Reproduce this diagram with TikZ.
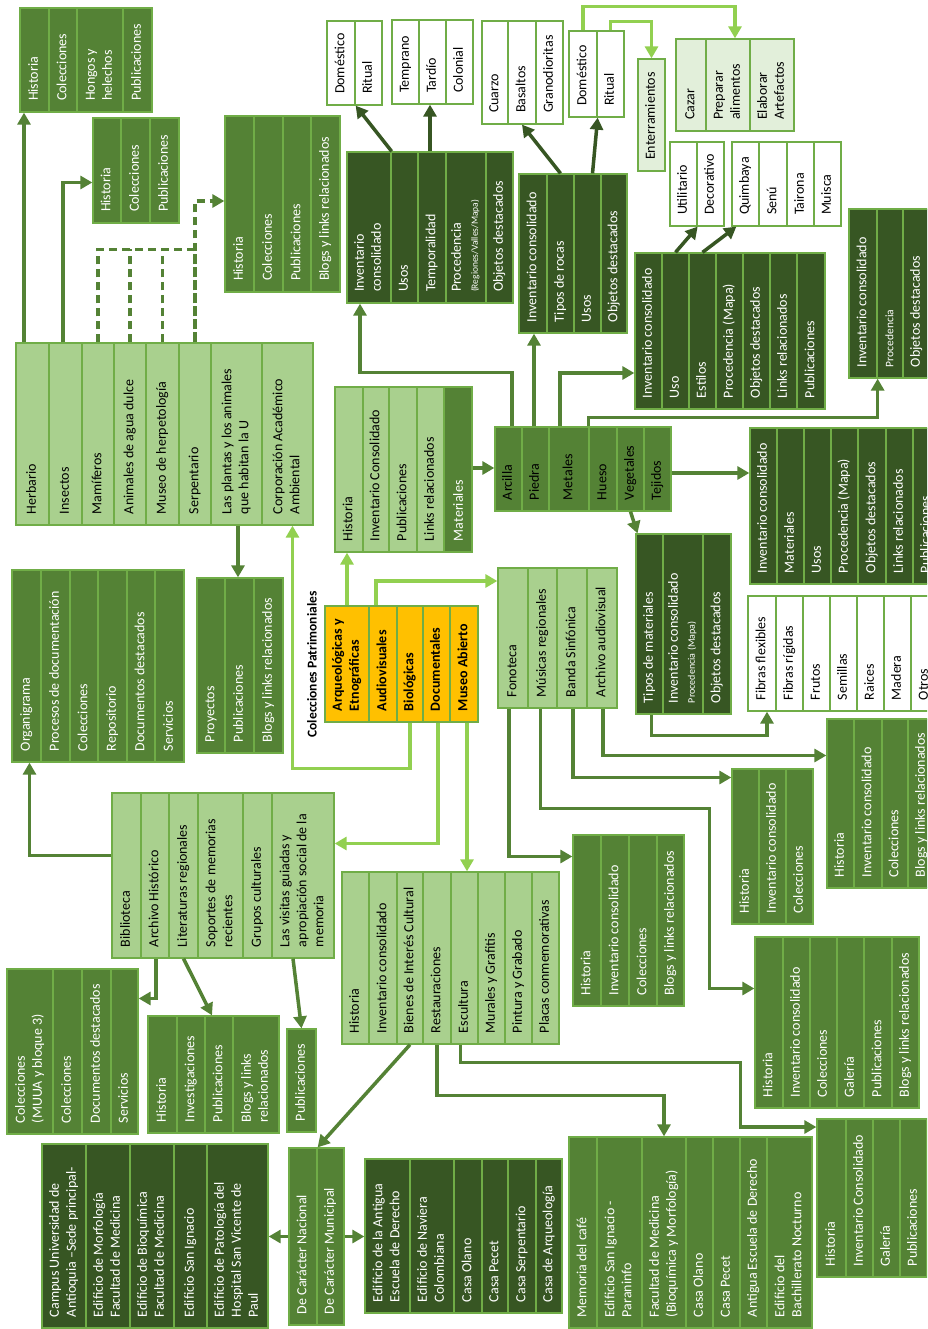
\documentclass[tikz,border=0pt]{standalone}
\usepackage{fontspec}
\setmainfont{Carlito}
\usepackage{graphicx}
\usetikzlibrary{arrows.meta}

\definecolor{midG}{HTML}{548235}
\definecolor{darkG}{HTML}{375623}
\definecolor{lightG}{HTML}{A9D08E}
\definecolor{paleG}{HTML}{E2EFDA}
\definecolor{edgeG}{HTML}{70AD47}
\definecolor{brightG}{HTML}{92D050}
\definecolor{gold}{HTML}{FFC000}

\tikzset{
  cellbox/.style={draw=edgeG, line width=1.3pt, inner sep=0pt, font=\fontsize{14}{17}\selectfont},
  midcell/.style={fill=midG, text=white},
  darkcell/.style={fill=darkG, text=white},
  greencell/.style={fill=midG, text=black},
  lightcell/.style={fill=lightG, text=black},
  whitecell/.style={fill=white, text=black},
  palecell/.style={fill=paleG, text=black},
  goldcell/.style={fill=gold, text=black, font=\fontsize{14}{17}\selectfont\bfseries},
  link/.style={draw=midG, line width=3.5pt, -{Triangle[width=13pt,length=12pt]}},
  darklink/.style={link, draw=darkG},
  brightlink/.style={link, draw=brightG},
  dashlink/.style={draw=midG, line width=3.5pt, dash pattern=on 8pt off 5pt},
}

% texto pequeno dentro de una celda
\newcommand{\smalltxt}[2]{{\fontsize{#1}{#1}\selectfont #2}}

% caja de columnas: nombre, estilo, x izquierda, y arriba, y abajo, {ancho/texto,...}
\newcommand{\colbox}[6]{%
  \xdef\curx{#3}%
  \pgfmathsetmacro\cellh{#5-#4}%
  \foreach \cw/\ctext [count=\ci] in {#6} {%
    \pgfmathsetmacro\cellx{\curx+\cw/2}%
    \node[cellbox, #2, minimum width=\cw pt, minimum height=\cellh pt] (#1-\ci) at (\cellx, {(#4+#5)/2})
      {\rotatebox{90}{\makebox[\dimexpr\cellh pt-22pt\relax][l]{\begin{tabular}{@{}l@{}}\ctext\end{tabular}}}};
    \pgfmathsetmacro\nextx{\curx+\cw}\xdef\curx{\nextx}%
  }%
}

\begin{document}
\begin{tikzpicture}[x=1pt, y=-1pt]
  % --- marco de la figura ---
  \useasboundingbox (0,0) rectangle (927,1329);
  \clip (0,0) rectangle (927,1329);
  \fill[white] (0,0) rectangle (927,1329);

  % --- colecciones patrimoniales (centro) ---
  \node[rotate=90, anchor=west, font=\fontsize{13.5}{16}\selectfont\bfseries] (titulo) at (312,741) {Colecciones Patrimoniales};
  \colbox{colec}{goldcell}{325}{606}{722}{44/{Arqueológicas y\\Etnográficas},28/Audiovisuales,26/Biológicas,27/Documentales,28/Museo Abierto}

  % --- biologicas ---
  \colbox{bio}{lightcell}{16}{343}{525}{33/Herbario,33/Insectos,32/Mamíferos,32/Animales de agua dulce,33/Museo de herpetología,32/Serpentario,51/{Las plantas y los animales\\que habitan la U},51/{Corporación Académico\\Ambiental}}
  \colbox{herbario}{midcell}{20}{8}{112}{29/Historia,28/Colecciones,46/{Hongos y\\helechos},29/Publicaciones}
  \colbox{insectos}{midcell}{93}{118}{223}{28/Historia,29/Colecciones,29/Publicaciones}
  \colbox{serpent}{midcell}{225}{116}{292}{29/Historia,29/Colecciones,28/Publicaciones,29/Blogs y links relacionados}
  \colbox{plantas}{midcell}{197}{578}{753}{28/Proyectos,29/Publicaciones,29/Blogs y links relacionados}

  % --- documentales ---
  \colbox{organi}{midcell}{12}{570}{762}{29/Organigrama,29/Procesos de documentación,28/Colecciones,29/Repositorio,28/Documentos destacados,29/Servicios}
  \colbox{memoria}{lightcell}{112}{793}{958}{29/Biblioteca,28/Archivo Histórico,29/Literaturas regionales,45/{Soportes de memorias\\recientes},29/Grupos culturales,62/{Las visitas guiadas y\\apropiación social de la\\memoria}}
  \colbox{archivoh}{midcell}{7}{969}{1134}{46/{Colecciones\\(MUUA y bloque 3)},29/Colecciones,29/Documentos destacados,27/Servicios}
  \colbox{literat}{midcell}{148}{1016}{1133}{29/Historia,28/Investigaciones,28/Publicaciones,46/{Blogs y links\\relacionados}}
  \colbox{visitas}{midcell}{287}{1029}{1132}{29/Publicaciones}

  % --- museo abierto ---
  \colbox{abierto}{lightcell}{342}{872}{1044}{27/Historia,28/Inventario consolidado,26/Bienes de Interés Cultural,28/Restauraciones,27/Escultura,27/Murales y Grafitis,27/Pintura y Grabado,27/Placas conmemorativas}
  \colbox{caracter}{midcell}{289}{1148}{1325}{28/De Carácter Nacional,27/De Carácter Municipal}
  \colbox{nacional}{darkcell}{42}{1144}{1328}{44/{Campus Universidad de\\Antioquia –Sede principal-},44/{Edificio de Morfología\\Facultad de Medicina},44/{Edificio de Bioquímica\\Facultad de Medicina},33/Edificio San Ignacio,61/{Edificio de Patología del\\Hospital San Vicente de\\Paul}}
  \colbox{municipal}{darkcell}{365}{1159}{1313}{45/{Edificio de la Antigua\\Escuela de Derecho},44/{Edificio de Naviera\\Colombiana},28/Casa Olano,26/Casa Pecet,28/Casa Serpentario,26/Casa de Arqueología}
  \colbox{restaur}{midcell}{569}{1137}{1328}{28/Memoria del café,45/{Edificio San Ignacio -\\Paraninfo},44/{Facultad de Medicina\\(Bioquímica y Morfología)},27/Casa Olano,27/Casa Pecet,27/Antigua Escuela de Derecho,45/{Edificio del\\Bachillerato Nocturno}}
  \colbox{escultura}{midcell}{817}{1119}{1277}{29/Historia,27/Inventario Consolidado,27/Galería,27/Publicaciones}

  % --- audiovisuales ---
  \colbox{fonoteca}{lightcell}{498}{568}{708}{30/Fonoteca,29/Músicas regionales,30/Banda Sinfónica,30/Archivo audiovisual}
  \colbox{fonot}{midcell}{573}{835}{1006}{28/Historia,28/Inventario consolidado,28/Colecciones,27/Blogs y links relacionados}
  \colbox{musicas}{midcell}{755}{937}{1108}{28/Historia,27/Inventario consolidado,27/Colecciones,27/Galería,28/Publicaciones,27/Blogs y links relacionados}
  \colbox{banda}{midcell}{732}{769}{924}{27/Historia,27/Inventario consolidado,27/Colecciones}
  \colbox{archivoav}{midcell}{827}{719}{888}{27/Historia,28/Inventario consolidado,26/Colecciones,27/Blogs y links relacionados}

  % --- arqueologicas y etnograficas ---
  \colbox{arqueo}{lightcell}{335}{387}{552}{28/Historia,26/Inventario Consolidado,28/Publicaciones,27/Links relacionados}
  \node[cellbox, midcell, minimum width=28pt, minimum height=165pt] (arqueo-5) at (458,469.5)
    {\rotatebox{90}{\makebox[143pt][l]{Materiales}}};
  \colbox{materiales}{greencell}{495}{427}{511}{27/Arcilla,27/Piedra,40/Metales,28/Hueso,27/Vegetales,27/Tejidos}
  \colbox{arcilla}{darkcell}{347}{152}{303}{44/{Inventario\\consolidado},27/Usos,28/Temporalidad,40/{Procedencia\\\smalltxt{9.5}{(Regiones/Valles/Mapa)}},27/Objetos destacados}
  \colbox{usosI}{whitecell}{327}{21}{105}{28/Doméstico,27/Ritual}
  \colbox{temporal}{whitecell}{392}{20}{104}{27/Temprano,27/Tardío,27/Colonial}
  \colbox{piedra}{darkcell}{519}{174}{333}{28/Inventario consolidado,27/Tipos de rocas,27/Usos,26/Objetos destacados}
  \colbox{rocas}{whitecell}{482}{21}{124}{26/Cuarzo,28/Basaltos,27/Granodioritas}
  \colbox{usosJ}{whitecell}{569}{31}{117}{28/Doméstico,27/Ritual}
  \colbox{domest}{palecell}{676}{39}{131}{30/Cazar,44/{Preparar\\alimentos},44/{Elaborar\\Artefactos}}
  \colbox{ritual}{palecell}{638}{59}{171}{27/Enterramientos}
  \colbox{metales}{darkcell}{635}{253}{409}{27/Inventario consolidado,27/Uso,27/Estilos,27/Procedencia (Mapa),27/Objetos destacados,27/Links relacionados,28/Publicaciones}
  \colbox{usoK}{whitecell}{670}{142}{226}{27/Utilitario,27/Decorativo}
  \colbox{estilos}{whitecell}{732}{142}{226}{27/Quimbaya,28/Senú,27/Tairona,27/Muisca}
  \colbox{hueso}{darkcell}{849}{209}{378}{28/Inventario consolidado,26/\smalltxt{11.5}{Procedencia},27/Objetos destacados}
  \colbox{tejidos}{darkcell}{750}{428}{584}{27/Inventario consolidado,27/Materiales,27/Usos,27/Procedencia (Mapa),28/Objetos destacados,27/Links relacionados,27/Publicaciones}
  \colbox{vegetales}{darkcell}{636}{534}{714}{27/Tipos de materiales,40/{Inventario consolidado\\\smalltxt{10}{Procedencia (Mapa)}},28/Objetos destacados}
  \colbox{fibras}{whitecell}{748}{596}{711}{28/Fibras flexibles,27/Fibras rígidas,27/Frutos,27/Semillas,27/Raices,27/Madera,27/Otros}

  % --- conectores: biologicas ---
  \draw[link] ([xshift=-8.5pt]bio-1.north) -- ([xshift=-8.5pt]bio-1.north |- herbario-1.south);
  \draw[link] ([xshift=-2.5pt]bio-2.north) |- ([yshift=-12pt]insectos-1.west);
  \draw[dashlink] (bio-3.north) -- ([yshift=93pt]bio-3.north) -| (bio-6.north);
  \draw[dashlink] (bio-4.north) -- ([yshift=93pt]bio-4.north);
  \draw[dashlink] (bio-5.north) -- ([yshift=93pt]bio-5.north);
  \draw[dashlink, -{Triangle[width=13pt,length=12pt]}] (bio-6.north) |- ([yshift=3pt]serpent-1.west);
  \draw[link] ([xshift=1.5pt]bio-7.south) -- ([xshift=1.5pt]bio-7.south |- plantas-2.north);

  % --- conectores: colecciones patrimoniales ---
  \draw[brightlink] (colec-1.north) -- (colec-1.north |- arqueo-1.south);
  \draw[brightlink] ([xshift=-7pt]colec-2.north) |- ([yshift=57pt]fonoteca-1.west);
  \draw[brightlink] (colec-3.south) -- ++(0,46) -| ([xshift=5pt]bio-8.south);
  \draw[brightlink] ([xshift=1.5pt]colec-4.south) |- ([yshift=32pt]memoria-6.east);
  \draw[brightlink] ([xshift=3pt]colec-5.south) -- ([xshift=3pt]colec-5.south |- abierto-5.north);

  % --- conectores: materiales ---
  \draw[link] ([yshift=1.5pt]arqueo-5.east) -- ([yshift=1.5pt]arqueo-5.east -| materiales-1.west);
  \draw[link] ([xshift=3.5pt]materiales-1.north) -- ++(0,-54) -| ([xshift=-9pt]arcilla-1.south);
  \draw[link] ([xshift=-1.5pt]materiales-2.north) -- ([xshift=-1.5pt]materiales-2.north |- piedra-1.south);
  \draw[link] ([xshift=-9pt]materiales-3.north) |- ([yshift=-42pt]metales-1.west);
  \draw[link] (materiales-4.north west) -- ++(0,-9) -| (hueso-1.south east);
  \draw[link] ([yshift=-4pt]materiales-6.east) -- ([yshift=-4pt]materiales-6.east -| tejidos-1.west);
  \draw[link] (materiales-5.south) -- ([xshift=-12pt]vegetales-1.north);
  \draw[link] ([xshift=2pt]vegetales-1.south) -- ++(0,21) -| ([xshift=5pt]fibras-1.south);

  % --- conectores: parte de arriba ---
  \draw[darklink] (arcilla-1.north east) -- (usosI-1.south east);
  \draw[darklink] ([xshift=-2pt]arcilla-3.north) -- ([xshift=-2pt]arcilla-3.north |- temporal-2.south);
  \draw[darklink] (piedra-2.north) -- (rocas-2.south);
  \draw[darklink] ([xshift=5pt]piedra-3.north) -- (usosJ-1.south east);
  \draw[brightlink] (usosJ-1.north) -- ++(0,-24) -| ([xshift=7pt]domest-2.north);
  \draw[brightlink] (usosJ-2.north) -- ++(0,-9) -| (ritual-1.north);
  \draw[darklink] (metales-2.north) -- (usoK-1.south east);
  \draw[darklink] (metales-3.north) -- ([xshift=5pt]estilos-1.south west);

  % --- conectores: audiovisuales ---
  \draw[link] ([xshift=-4pt]fonoteca-1.south) |- ([yshift=64pt]fonot-1.west);
  \draw[link] ([xshift=-2pt]fonoteca-2.south) -- ++(0,100) -- ++(169,0) |- ([yshift=34pt]musicas-1.west);
  \draw[link] ([xshift=1pt]fonoteca-3.south) |- ([yshift=69pt]banda-1.west);
  \draw[link] ([xshift=1pt]fonoteca-4.south) |- ([yshift=48pt]archivoav-1.west);

  % --- conectores: museo abierto ---
  \draw[link] (abierto-3.south) -- (caracter-1.north east);
  \draw[link] (abierto-4.south) -- ++(0,51) -| (restaur-3.north);
  \draw[link] ([xshift=-4pt]abierto-5.south) -- ++(0,18) -- ++(280,0) |- ([yshift=71pt]escultura-1.west);
  \draw[link] (caracter-1.west) -- (caracter-1.west -| nacional-5.east);
  \draw[link] (caracter-2.east) -- (caracter-2.east -| municipal-1.west);

  % --- conectores: documentales ---
  \draw[link] ([yshift=20pt]memoria-1.west) -| ([xshift=3pt]organi-1.south);
  \draw[link] ([xshift=1pt]memoria-2.south) |- ([yshift=53pt]archivoh-4.east);
  \draw[link] (memoria-3.south) -- ([xshift=-7pt]literat-3.north);
  \draw[link] ([xshift=-10pt]memoria-6.south) -- (visitas-1.north);
\end{tikzpicture}
\end{document}
